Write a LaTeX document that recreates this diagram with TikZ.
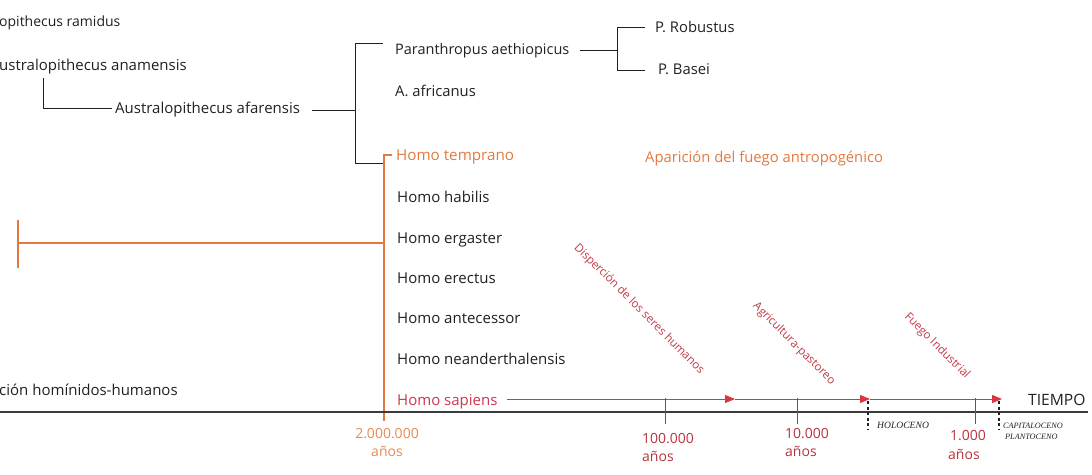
\documentclass[tikz,border=0pt]{standalone}
\usepackage{fontspec}
\setmainfont{Open Sans}
\newfontfamily\serifit{Liberation Serif}
\usetikzlibrary{arrows.meta}
\definecolor{ink}{HTML}{231F20}
\definecolor{orng}{HTML}{E27A40}
\definecolor{orlt}{HTML}{E58A55}
\definecolor{crim}{HTML}{D0344F}
\definecolor{mar}{HTML}{C23A48}
\definecolor{redl}{HTML}{D93640}
\definecolor{yrs}{HTML}{B8323C}
\definecolor{axisc}{HTML}{3C3C3C}
\begin{document}
\begin{tikzpicture}[x=1pt,y=-1pt,
  lbl/.style={anchor=base west,inner sep=0pt,font=\fontsize{14.8}{16}\selectfont,text=ink},
  homo/.style={lbl,font=\fontsize{15}{16}\selectfont},
  yr/.style={anchor=base west,inner sep=0pt,font=\fontsize{14}{16}\selectfont,text=yrs},
  rot/.style={inner sep=0pt,rotate=-45,font=\fontsize{11.6}{12}\selectfont,text=mar},
  epoch/.style={anchor=base west,inner sep=0pt,font=\serifit\itshape\fontsize{8.2}{10}\selectfont,text=ink},
  tree/.style={draw=ink,line width=0.9pt},
  otree/.style={draw=orng,line width=1.2pt},
  redline/.style={draw=redl,line width=0.9pt,-{Triangle[length=10pt,width=8pt]}},
  redtick/.style={draw=yrs,line width=1pt},
  dtick/.style={draw=ink,line width=1.2pt,dash pattern=on 3pt off 2.5pt}]
\useasboundingbox (0,0) rectangle (1092,474);

% --- text nodes
\node[lbl,font=\fontsize{14}{16}\selectfont] (ram) at (-1,26) {opithecus ramidus};
\node[lbl,font=\fontsize{15}{16}\selectfont] (ana) at (-1,70) {ustralopithecus anamensis};
\node[lbl,font=\fontsize{15}{16}\selectfont] (afa) at (115,113) {Australopithecus afarensis};
\node[lbl,font=\fontsize{14.5}{16}\selectfont] (par) at (395,54) {Paranthropus aethiopicus};
\node[lbl] (afr) at (395,96) {A. africanus};
\node[lbl] (rob) at (655,32) {P. Robustus};
\node[lbl] (bas) at (658,74) {P. Basei};
\node[lbl,text=orng,font=\fontsize{15.2}{16}\selectfont] (temp) at (396,160) {Homo temprano};
\node[lbl,text=orng] (fuego) at (645,162) {Aparición del fuego antropogénico};
\node[homo] (hab) at (397,202) {Homo habilis};
\node[homo] (erg) at (397,243) {Homo ergaster};
\node[homo] (ere) at (397,283) {Homo erectus};
\node[homo] (ant) at (397,323) {Homo antecessor};
\node[homo] (nea) at (397,364) {Homo neanderthalensis};
\node[homo,text=crim] (sap) at (397,405) {Homo sapiens};
\node[homo] (hh) at (-1,395) {ción homínidos-humanos};
\node[lbl,font=\fontsize{15.6}{16}\selectfont] (tiempo) at (1028,405) {TIEMPO};

% --- years
\node[anchor=base,inner sep=0pt,font=\fontsize{14}{16}\selectfont,text=orlt] (y2m) at (387,438) {2.000.000};
\node[anchor=base,inner sep=0pt,font=\fontsize{14}{16}\selectfont,text=orlt] (y2ma) at (387,456) {años};
\node[yr] (y100) at (642,443) {100.000};
\node[yr] (y100a) at (642,461) {años};
\node[yr] (y10) at (785,438) {10.000};
\node[yr] (y10a) at (785,456) {años};
\node[yr] (y1) at (950,440) {1.000};
\node[yr] (y1a) at (948,459) {años};
\node[epoch,font=\serifit\itshape\fontsize{9.6}{10}\selectfont] (holo) at (877,428) {HOLOCENO};
\node[epoch] (capi) at (1003,428) {CAPITALOCENO};
\node[epoch] (plan) at (1005,439) {PLANTOCENO};

% --- rotated labels
\node[rot] (disp) at (639,309) {Disperción de los seres humanos};
\node[rot] (agri) at (794,344) {Agricultura-pastoreo};
\node[rot] (fueg) at (937,346) {Fuego Industrial};

% --- tree connectors
\coordinate (anaB) at (43,78);
\coordinate (anaC) at (43,108);
\coordinate (afaE) at (112,108);
\draw[tree] (anaB) -- (anaC) -- (afaE);

\coordinate (afaS) at (312,110);
\coordinate (f1) at (355,110);
\coordinate (f1t) at (355,43);
\coordinate (f1b) at (355,163);
\coordinate (f1te) at (383,43);
\coordinate (f1be) at (383,163);
\draw[tree] (afaS) -- (f1);
\draw[tree] (f1te) -- (f1t) -- (f1b) -- (f1be);

\coordinate (parS) at (580,50);
\coordinate (f2) at (617,50);
\coordinate (f2t) at (617,27);
\coordinate (f2b) at (617,70);
\coordinate (f2te) at (645,27);
\coordinate (f2be) at (645,70);
\draw[tree] (parS) -- (f2);
\draw[tree] (f2te) -- (f2t) -- (f2b) -- (f2be);

% --- orange Homo branch
\coordinate (oT) at (392,155);
\coordinate (oTc) at (384,155);
\coordinate (oB) at (384,421);
\coordinate (oM) at (384,243);
\coordinate (oL) at (18,243);
\coordinate (oLt) at (18,220);
\coordinate (oLb) at (18,268);
\draw[otree] (oT) -- (oTc) -- (oB);
\draw[otree] (oM) -- (oL);
\draw[otree] (oLt) -- (oLb);

% --- axis
\coordinate (ax0) at (0,412);
\coordinate (ax1) at (1088,412);
\draw[draw=axisc,line width=2.6pt] (ax0) -- (ax1);

% --- red timeline
\coordinate (r0) at (507,399);
\coordinate (a1) at (735,399);
\coordinate (a2) at (870,399);
\coordinate (a3) at (1002,399);
\draw[redline] (r0) -- (a1);
\draw[redline] (a1) -- (a2);
\draw[redline] (a2) -- (a3);

\foreach \n/\x in {t100/665,t10/797,t1/975}{
  \coordinate (\n a) at (\x,398);
  \coordinate (\n b) at (\x,424);
  \draw[redtick] (\n a) -- (\n b);
}
\coordinate (d1a) at (868,401);
\coordinate (d1b) at (868,429);
\coordinate (d2a) at (999,401);
\coordinate (d2b) at (999,429);
\draw[dtick] (d1a) -- (d1b);
\draw[dtick] (d2a) -- (d2b);
\end{tikzpicture}
\end{document}
